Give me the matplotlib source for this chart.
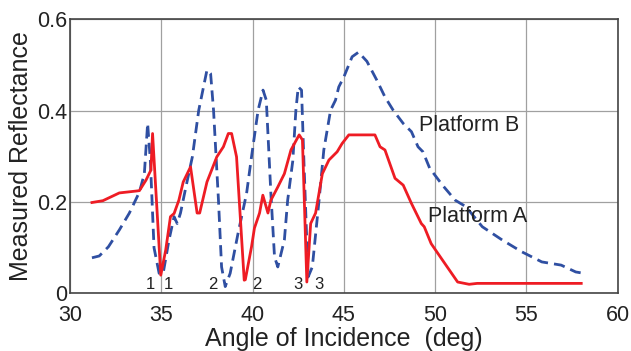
import numpy as np
import matplotlib
matplotlib.use("Agg")
import matplotlib.pyplot as plt

plt.rcParams['font.family'] = ['Liberation Sans', 'DejaVu Sans']

# Platform A (red, solid)
angle_a = [31.2, 31.8, 32.7, 33.6, 33.8, 34.16, 34.43, 34.52, 34.97, 35.24, 35.5, 35.7,
           35.96, 36.2, 36.6, 36.96, 37.1, 37.5, 38.04, 38.4, 38.67, 38.85, 39.12, 39.54,
           39.6, 39.94, 40.1, 40.38, 40.56, 40.84, 41.0, 41.38, 41.74, 42.1, 42.55, 42.73,
           42.97, 43.18, 43.45, 43.82, 44.18, 44.63, 44.9, 45.27, 46.7, 46.98, 47.25, 47.8,
           48.25, 48.7, 49.24, 49.4, 49.78, 50.4, 51.23, 51.86, 52.3, 58.0]
refl_a = [0.199, 0.203, 0.220, 0.224, 0.225, 0.248, 0.270, 0.350, 0.040, 0.095, 0.168, 0.175,
          0.204, 0.244, 0.277, 0.176, 0.176, 0.244, 0.299, 0.321, 0.350, 0.350, 0.299, 0.029,
          0.030, 0.102, 0.143, 0.176, 0.215, 0.176, 0.204, 0.233, 0.262, 0.314, 0.347, 0.336,
          0.025, 0.153, 0.176, 0.262, 0.292, 0.310, 0.328, 0.347, 0.347, 0.321, 0.314, 0.252,
          0.237, 0.197, 0.153, 0.146, 0.109, 0.073, 0.025, 0.020, 0.022, 0.022]

# Platform B (blue, dashed)
angle_b = [31.2, 31.6, 32.1, 32.7, 33.25, 33.8, 34.07, 34.25, 34.4, 34.6, 34.88, 35.1,
           35.42, 35.7, 35.87, 36.05, 36.32, 36.7, 37.05, 37.5, 37.7, 37.86, 38.13, 38.3,
           38.5, 38.77, 39.2, 39.67, 39.94, 40.3, 40.57, 40.75, 41.0, 41.2, 41.38, 41.74,
           41.92, 42.2, 42.37, 42.5, 42.68, 42.82, 43.04, 43.27, 43.64, 43.9, 44.27, 44.54,
           44.72, 45.0, 45.45, 45.8, 46.26, 46.8, 47.25, 47.7, 48.25, 48.7, 49.06, 49.33,
           49.7, 50.4, 51.1, 51.68, 52.58, 53.67, 54.75, 55.84, 56.9, 57.7, 58.0]
refl_b = [0.078, 0.082, 0.102, 0.139, 0.176, 0.222, 0.262, 0.372, 0.290, 0.100, 0.044, 0.044,
          0.117, 0.168, 0.153, 0.176, 0.228, 0.299, 0.401, 0.489, 0.481, 0.401, 0.204, 0.058,
          0.015, 0.044, 0.131, 0.219, 0.299, 0.401, 0.445, 0.423, 0.219, 0.080, 0.058, 0.117,
          0.204, 0.290, 0.401, 0.452, 0.445, 0.277, 0.036, 0.058, 0.204, 0.314, 0.401, 0.423,
          0.452, 0.474, 0.518, 0.528, 0.508, 0.467, 0.430, 0.401, 0.372, 0.354, 0.321, 0.310,
          0.274, 0.237, 0.204, 0.190, 0.146, 0.117, 0.091, 0.069, 0.062, 0.047, 0.045]

# minimum markers
marker_x = [34.4, 35.4, 37.8, 40.24, 42.5, 43.64]
marker_txt = ['1', '1', '2', '2', '3', '3']

fig = plt.figure(figsize=(6.31, 3.51), dpi=100)
ax = fig.add_axes([0.111, 0.164, 0.868, 0.781])

ax.plot(angle_b, refl_b, color='#2f4fa2', lw=2.0, ls=(0, (4, 2.2)))
ax.plot(angle_a, refl_a, color='#ee1c24', lw=2.0)

for mx, t in zip(marker_x, marker_txt):
    ax.text(mx, 0.004, t, fontsize=12, ha='center', va='bottom', color='#222222')

ax.text(49.13, 0.367, 'Platform B', fontsize=15.5, va='center', color='#222222')
ax.text(49.6, 0.168, 'Platform A', fontsize=15.5, va='center', color='#222222')

ax.set_xlim(30, 60)
ax.set_ylim(0, 0.6)
ax.set_xticks([30, 35, 40, 45, 50, 55, 60])
ax.set_yticks([0, 0.2, 0.4, 0.6])
ax.set_yticklabels(['0', '0.2', '0.4', '0.6'])
ax.grid(True, color='#a0a0a0', lw=0.9)
ax.tick_params(labelsize=15.5, length=0, colors='#222222')
ax.tick_params(axis='x', pad=8)
ax.tick_params(axis='y', pad=2)
for s in ax.spines.values():
    s.set_color('#444444')
    s.set_linewidth(1.2)

ax.set_xlabel('Angle of Incidence  (deg)', fontsize=18, labelpad=1, color='#222222')
ax.set_ylabel('Measured Reflectance', fontsize=18, labelpad=3, color='#222222')

fig.savefig('out.png', dpi=100)
